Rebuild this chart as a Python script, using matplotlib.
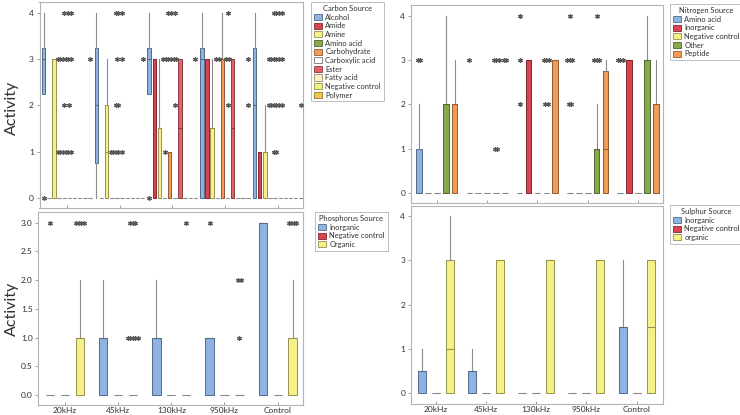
import matplotlib
matplotlib.use("Agg")
import matplotlib.pyplot as plt
from matplotlib.patches import Patch
from matplotlib.colors import to_rgb
import numpy as np

plt.rcParams['font.family'] = ['Lato', 'DejaVu Sans']

groups = ["20kHz", "45kHz", "130kHz", "950kHz", "Control"]

# ---------------- Carbon source ----------------
carbon_cats = ["Alcohol", "Amide", "Amine", "Amino acid", "Carbohydrate",
               "Carboxylic acid", "Ester", "Fatty acid", "Negative control", "Polymer"]
carbon_colors = ["#8db3e2", "#d9434f", "#f6f187", "#86a94e", "#f39a55",
                 "#ffffff", "#e4606b", "#fbf4c2", "#f4f07e", "#f2c84b"]
carbon_q1 = [[2.25, 0.75, 2.25, 0, 0]] + [[0, 0, 0, 0, 0]] * 9
carbon_med = [[3, 2, 3, 3, 2], [0, 0, 3, 3, 1], [3, 1, 1.5, 1.5, 1], [0, 0, 0, 0, 0],
              [0, 0, 1, 3, 0], [0, 0, 0, 0, 0], [0, 0, 1.5, 1.5, 0], [0, 0, 0, 0, 0],
              [0, 0, 0, 0, 0], [0, 0, 0, 0, 0]]
carbon_q3 = [[3.25, 3.25, 3.25, 3.25, 3.25], [0, 0, 3, 3, 1], [3, 2, 1.5, 1.5, 1], [0, 0, 0, 0, 0],
             [0, 0, 1, 3, 0], [0, 0, 0, 0, 0], [0, 0, 3, 3, 0], [0, 0, 0, 0, 0],
             [0, 0, 0, 0, 0], [0, 0, 0, 0, 0]]
carbon_wlo = [[2.25, 0, 2.25, 0, 0]] + [[0, 0, 0, 0, 0]] * 9
carbon_whi = [[4, 4, 4, 4, 4], [0, 0, 3, 3, 1], [3, 3, 3, 3, 2], [0, 0, 0, 0, 0],
              [0, 0, 1, 4, 0], [0, 0, 0, 0, 0], [0, 0, 3, 3, 0], [0, 0, 0, 0, 0],
              [0, 0, 0, 0, 0], [0, 0, 0, 0, 0]]
carbon_fliers = [
    [[0], [], [0], [], []],
    [[], [], [], [], []],
    [[], [], [], [], []],
    [[3, 3, 1, 1], [1, 1], [3, 3, 1], [3, 3], [3, 3, 2, 2]],
    [[4, 3, 3, 2, 1, 1], [4, 4, 3, 2, 2, 1, 1], [4, 4, 3, 3], [], [4, 4, 3, 3, 2, 2, 1, 1]],
    [[4, 4, 3, 3, 2, 1, 1], [4, 3, 1], [4, 3, 3, 2], [4, 3, 3, 2], [4, 4, 3, 3, 2, 2]],
    [[], [], [], [], []],
    [[], [], [], [], []],
    [[], [], [], [], []],
    [[3], [3], [3], [3, 2], [2]],
]

# ---------------- Nitrogen source ----------------
nitro_cats = ["Amino acid", "Inorganic", "Negative control", "Other", "Peptide"]
nitro_colors = ["#8db3e2", "#d9434f", "#f6f187", "#86a94e", "#f39a55"]
nitro_q1 = [[0, 0, 0, 0, 0]] * 5
nitro_med = [[0, 0, 0, 0, 0], [0, 0, 3, 0, 3], [0, 0, 0, 0, 0], [2, 0, 0, 1, 3], [2, 0, 3, 1, 2]]
nitro_q3 = [[1, 0, 0, 0, 0], [0, 0, 3, 0, 3], [0, 0, 0, 0, 0], [2, 0, 0, 1, 3], [2, 0, 3, 2.75, 2]]
nitro_wlo = [[0, 0, 0, 0, 0]] * 5
nitro_whi = [[2, 0, 0, 0, 0], [0, 0, 3, 0, 3], [0, 0, 0, 0, 0], [4, 0, 0, 2, 4], [3, 0, 3, 3, 3]]
nitro_fliers = [
    [[3, 3], [3], [4, 3, 2], [4, 3, 3, 3, 2, 2], [3, 3, 3]],
    [[], [], [], [], []],
    [[], [], [], [], []],
    [[], [3, 3, 3, 1, 1], [3, 3, 3, 2, 2], [4, 3, 3, 3], []],
    [[], [3, 3], [], [], []],
]

# ---------------- Phosphorus source ----------------
phos_cats = ["Inorganic", "Negative control", "Organic"]
phos_colors = ["#8db3e2", "#d9434f", "#f6f187"]
phos_q1 = [[0, 0, 0, 0, 0]] * 3
phos_med = [[0, 1, 1, 1, 3], [0, 0, 0, 0, 0], [1, 0, 0, 0, 1]]
phos_q3 = [[0, 1, 1, 1, 3], [0, 0, 0, 0, 0], [1, 0, 0, 0, 1]]
phos_wlo = [[0, 0, 0, 0, 0]] * 3
phos_whi = [[0, 2, 2, 1, 3], [0, 0, 0, 0, 0], [2, 0, 0, 0, 2]]
phos_fliers = [
    [[3], [], [], [3], []],
    [[], [], [], [], []],
    [[3, 3, 3, 3], [3, 3, 3, 1, 1, 1, 1, 1], [3], [2, 2, 1], [3, 3, 3, 3]],
]

# ---------------- Sulphur source ----------------
sulph_cats = ["Inorganic", "Negative control", "organic"]
sulph_colors = ["#8db3e2", "#d9434f", "#f6f187"]
sulph_q1 = [[0, 0, 0, 0, 0]] * 3
sulph_med = [[0.5, 0.5, 0, 0, 1.5], [0, 0, 0, 0, 0], [1, 3, 3, 3, 1.5]]
sulph_q3 = [[0.5, 0.5, 0, 0, 1.5], [0, 0, 0, 0, 0], [3, 3, 3, 3, 3]]
sulph_wlo = [[0, 0, 0, 0, 0]] * 3
sulph_whi = [[1, 1, 0, 0, 3], [0, 0, 0, 0, 0], [4, 3, 3, 3, 3]]
sulph_fliers = [[[]] * 5, [[]] * 5, [[]] * 5]


def darken(c, f=0.6):
    r, g, b = to_rgb(c)
    if (r, g, b) == (1.0, 1.0, 1.0):
        return (0.45, 0.45, 0.45)
    return (r * f, g * f, b * f)


W, H = 740, 415
fig = plt.figure(figsize=(W / 100, H / 100), dpi=100)


def make_axes(rect_px):
    l, t, r, b = rect_px
    return fig.add_axes([l / W, 1 - b / H, (r - l) / W, (b - t) / H])


def draw_panel(ax, cats, colors, q1, med, q3, wlo, whi, fliers,
               slot_w, box_w, xlim, ylim, yticks, yfmt, show_xlabels):
    n = len(cats)
    ax.set_xlim(*xlim)
    ax.set_ylim(*ylim)
    bbox = ax.get_position()
    ax_px = bbox.width * W
    dx = 2.5 * (xlim[1] - xlim[0]) / ax_px
    for ci in range(n):
        pos = [g + (ci - (n - 1) / 2) * slot_w for g in range(len(groups))]
        stats = []
        for gi in range(len(groups)):
            stats.append(dict(q1=q1[ci][gi], med=med[ci][gi], q3=q3[ci][gi],
                              whislo=wlo[ci][gi], whishi=whi[ci][gi], fliers=[]))
        ec = darken(colors[ci])
        res = ax.bxp(stats, positions=pos, widths=box_w, patch_artist=True,
                     showfliers=False, showcaps=False, manage_ticks=False,
                     boxprops=dict(facecolor=colors[ci], edgecolor=ec, linewidth=0.7),
                     whiskerprops=dict(color="#8c8c8c", linewidth=0.8),
                     medianprops=dict(color=ec, linewidth=0.8))
        for gi, patch in enumerate(res['boxes']):
            if q1[ci][gi] == q3[ci][gi]:
                patch.set_edgecolor("#8a8a8a")
                res['medians'][gi].set_color("#8a8a8a")
        for gi in range(len(groups)):
            vals, counts = np.unique(np.array(fliers[ci][gi], dtype=float), return_counts=True)
            for v, k in zip(vals, counts):
                xs = pos[gi] + (np.arange(k) - (k - 1) / 2) * dx
                ax.plot(xs, [v] * k, linestyle="none", marker=(6, 2, 0),
                        markersize=3.3, markeredgewidth=0.9, color="#5a5a5a", zorder=5)
    ax.set_xticks(range(len(groups)))
    if show_xlabels:
        ax.set_xticklabels(groups, fontsize=6, color="#303030")
    else:
        ax.set_xticklabels([])
    ax.set_yticks(yticks)
    ax.set_yticklabels([yfmt.format(t) for t in yticks], fontsize=6, color="#303030")
    ax.tick_params(axis="y", length=2, width=0.6, color="#909090", pad=2)
    ax.tick_params(axis="x", direction="in", length=2, width=0.6, color="#909090", pad=1.5)
    for sp in ax.spines.values():
        sp.set_color("#b4b4b4")
        sp.set_linewidth(0.8)


def add_legend(title, cats, colors, x_px, y_px):
    handles = [Patch(facecolor=c, edgecolor=darken(c), linewidth=0.6) for c in colors]
    leg = fig.legend(handles, cats, title=title, loc="upper left",
                     bbox_to_anchor=(x_px / W, 1 - y_px / H), fontsize=5.4,
                     title_fontsize=5.4, frameon=True, fancybox=False,
                     edgecolor="#a0a0a0", handlelength=1.1, handleheight=0.9,
                     handletextpad=0.4, labelspacing=0.22, borderpad=0.4,
                     borderaxespad=0)
    leg.get_frame().set_linewidth(0.6)
    leg.get_title().set_color("#303030")
    for t in leg.get_texts():
        t.set_color("#303030")


ax1 = make_axes((39.5, 1.7, 303, 208.5))
draw_panel(ax1, carbon_cats, carbon_colors, carbon_q1, carbon_med, carbon_q3,
           carbon_wlo, carbon_whi, carbon_fliers, 0.0976, 0.065,
           (-0.52, 4.48), (-0.23, 4.24), [0, 1, 2, 3, 4], "{:g}", False)

ax2 = make_axes((410.7, 5, 662.7, 203))
draw_panel(ax2, nitro_cats, nitro_colors, nitro_q1, nitro_med, nitro_q3,
           nitro_wlo, nitro_whi, nitro_fliers, 0.177, 0.11,
           (-0.52, 4.49), (-0.22, 4.24), [0, 1, 2, 3, 4], "{:g}", False)

ax3 = make_axes((38.3, 212.3, 302.7, 405))
draw_panel(ax3, phos_cats, phos_colors, phos_q1, phos_med, phos_q3,
           phos_wlo, phos_whi, phos_fliers, 0.28, 0.157,
           (-0.5, 4.47), (-0.17, 3.18), [0, 0.5, 1, 1.5, 2, 2.5, 3], "{:.1f}", True)

ax4 = make_axes((410.7, 206, 662.7, 404.3))
draw_panel(ax4, sulph_cats, sulph_colors, sulph_q1, sulph_med, sulph_q3,
           sulph_wlo, sulph_whi, sulph_fliers, 0.28, 0.16,
           (-0.5, 4.52), (-0.25, 4.23), [0, 1, 2, 3, 4], "{:g}", True)

add_legend("Carbon Source", carbon_cats, carbon_colors, 311, 2)
add_legend("Nitrogen Source", nitro_cats, nitro_colors, 670, 4)
add_legend("Phosphorus Source", phos_cats, phos_colors, 315, 212)
add_legend("Sulphur Source", sulph_cats, sulph_colors, 670, 205)

fig.text(12 / W, 1 - 108 / H, "Activity", rotation=90, fontsize=11.5,
         ha="center", va="center", color="#303030")
fig.text(12 / W, 1 - 309 / H, "Activity", rotation=90, fontsize=11.5,
         ha="center", va="center", color="#303030")

fig.savefig("out.png", dpi=100)
